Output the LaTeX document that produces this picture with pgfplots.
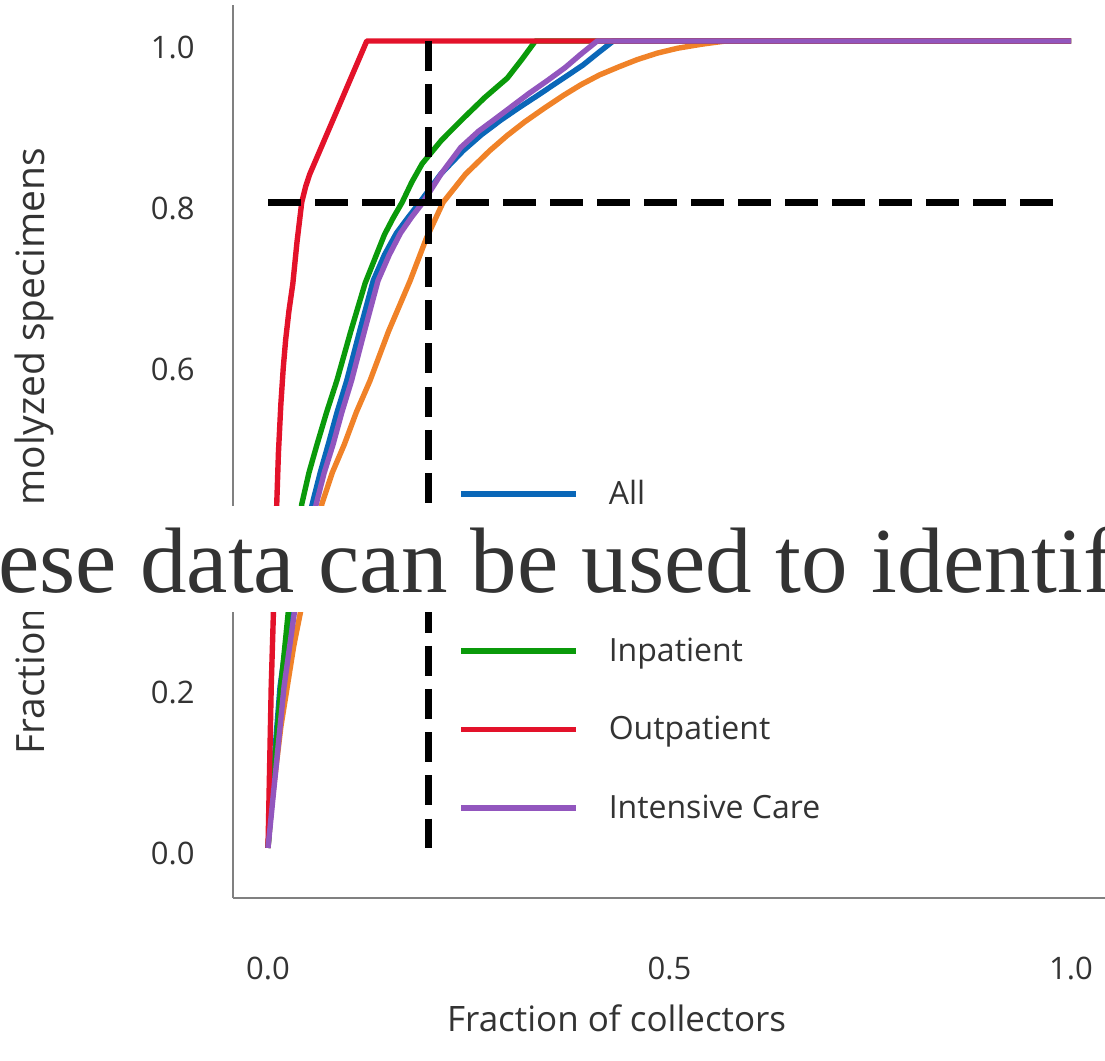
\documentclass[border=0pt]{standalone}
\usepackage{pgfplots}
\pgfplotsset{compat=1.18}
\usepackage{fontspec}
\setmainfont{Open Sans}
\newfontfamily\ovlfont{Liberation Serif}
\definecolor{cblue}{HTML}{0A67B8}
\definecolor{corange}{HTML}{F08228}
\definecolor{cgreen}{HTML}{0A9A0A}
\definecolor{cred}{HTML}{E3122A}
\definecolor{cpurple}{HTML}{9256BE}
\definecolor{tgray}{HTML}{333333}
\definecolor{agray}{HTML}{808080}

\pgfplotstableread{
x y
0 0
0.003 0.05
0.007 0.1
0.011 0.15
0.015 0.2
0.022 0.25
0.030 0.3
0.041 0.36
0.055 0.426
0.065 0.465
0.075 0.5
0.086 0.54
0.098 0.579
0.114 0.64
0.131 0.703
0.145 0.735
0.160 0.762
0.175 0.782
0.189 0.800
0.215 0.835
0.243 0.864
0.266 0.884
0.290 0.902
0.312 0.917
0.335 0.932
0.362 0.950
0.392 0.970
0.412 0.986
0.430 1.0
1.0 1.0
}\tblall
\pgfplotstableread{
x y
0 0
0.004 0.05
0.010 0.1
0.016 0.15
0.024 0.2
0.032 0.25
0.042 0.3
0.054 0.36
0.067 0.426
0.080 0.465
0.095 0.5
0.110 0.54
0.127 0.579
0.150 0.64
0.177 0.703
0.197 0.755
0.218 0.800
0.246 0.835
0.276 0.864
0.298 0.883
0.320 0.900
0.343 0.916
0.367 0.932
0.390 0.946
0.413 0.958
0.437 0.968
0.460 0.977
0.485 0.985
0.510 0.991
0.540 0.996
0.570 1.0
1.0 1.0
}\tblemerg
\pgfplotstableread{
x y
0 0
0.004 0.05
0.008 0.1
0.012 0.15
0.016 0.2
0.021 0.25
0.026 0.3
0.034 0.36
0.042 0.426
0.051 0.465
0.061 0.500
0.073 0.54
0.086 0.580
0.103 0.64
0.121 0.700
0.133 0.73
0.145 0.760
0.156 0.781
0.167 0.800
0.179 0.825
0.192 0.848
0.216 0.877
0.243 0.904
0.270 0.930
0.298 0.954
0.316 0.977
0.333 1.0
1.0 1.0
}\tblin
\pgfplotstableread{
x y
0 0
0.001 0.05
0.002 0.1
0.003 0.15
0.004 0.2
0.0055 0.25
0.007 0.3
0.009 0.37
0.011 0.43
0.013 0.49
0.016 0.55
0.019 0.595
0.022 0.63
0.026 0.665
0.031 0.70
0.036 0.75
0.042 0.80
0.047 0.82
0.052 0.835
0.123 1.0
1.0 1.0
}\tblout
\pgfplotstableread{
x y
0 0
0.005 0.05
0.010 0.1
0.015 0.15
0.020 0.2
0.027 0.25
0.034 0.3
0.046 0.36
0.060 0.426
0.070 0.465
0.081 0.500
0.092 0.54
0.104 0.579
0.120 0.64
0.137 0.703
0.151 0.735
0.165 0.762
0.179 0.782
0.193 0.800
0.216 0.836
0.240 0.868
0.262 0.888
0.285 0.905
0.305 0.920
0.325 0.935
0.348 0.951
0.370 0.967
0.390 0.984
0.410 1.0
1.0 1.0
}\tblicu

\begin{document}
\begin{tikzpicture}
\useasboundingbox (0pt,0pt) rectangle (552.5pt,530.5pt);
\clip (0pt,0pt) rectangle (552.5pt,530.5pt);
\begin{axis}[
  at={(116.5pt,81.5pt)}, anchor=south west,
  scale only axis, width=436pt, height=446.5pt,
  xmin=-0.0436, xmax=1.0423, ymin=-0.062, ymax=1.0446,
  axis x line*=bottom, axis y line*=left,
  axis line style={-, draw=agray, line width=0.7pt},
  x axis line style={-}, y axis line style={-},
  xtick={0,0.5,1}, xticklabels={0.0,0.5,1.0},
  ytick={0,0.2,0.4,0.6,0.8,1}, yticklabels={0.0,0.2,0.4,0.6,0.8,1.0},
  major tick length=0pt, tick style={draw=none},
  ticklabel style={font=\fontsize{15.5}{18}\selectfont, text=tgray, inner sep=0pt},
  xticklabel style={anchor=center, yshift=-35pt},
  yticklabel style={anchor=east, xshift=-19pt, yshift=-3pt},
  xlabel={Fraction of collectors},
  ylabel={Fraction of hemolyzed specimens},
  xlabel style={at={(axis description cs:0.44,-0.1344)}, anchor=center, font=\fontsize{17.5}{20}\selectfont, text=tgray, inner sep=0pt},
  ylabel style={at={(axis description cs:-0.2280,0.500)}, anchor=center, font=\fontsize{19.5}{23}\selectfont, text=tgray, inner sep=0pt},
  legend style={at={(axis description cs:0.258,0.468)}, anchor=north west, draw=none, fill=none,
    font=\fontsize{16}{18}\selectfont, text=tgray, inner sep=0pt, row sep=26pt, column sep=15pt,
    nodes={inner sep=0pt}},
  legend cell align=left,
  legend image code/.code={\draw[#1] (0pt,0pt) -- (57.5pt,0pt);},
  every axis plot/.append style={line width=2.7pt, line join=round},
  clip=false,
]
\addplot[cblue] table[x=x,y=y] {\tblall};
\addlegendentry{All}
\addplot[corange] table[x=x,y=y] {\tblemerg};
\addlegendentry{Emergency}
\addplot[cgreen] table[x=x,y=y] {\tblin};
\addlegendentry{Inpatient}
\addplot[cred] table[x=x,y=y] {\tblout};
\addlegendentry{Outpatient}
\addplot[cpurple] table[x=x,y=y] {\tblicu};
\addlegendentry{Intensive Care}
\addplot[black, line width=3.2pt, dash pattern=on 16.5pt off 7pt, forget plot] coordinates {(0,0.8) (0.98,0.8)};
\addplot[black, line width=3.2pt, dash pattern=on 15pt off 6.6pt, forget plot] coordinates {(0.2,1.0) (0.2,0)};
\end{axis}
\fill[white] (0pt,224.5pt) rectangle (552.5pt,277.5pt);
\node[anchor=base west, inner sep=0pt, text=tgray, font=\ovlfont\fontsize{46.5}{50}\selectfont] at (-1pt,234pt) {\llap{Th}ese data can be used to identify};
\end{tikzpicture}
\end{document}
